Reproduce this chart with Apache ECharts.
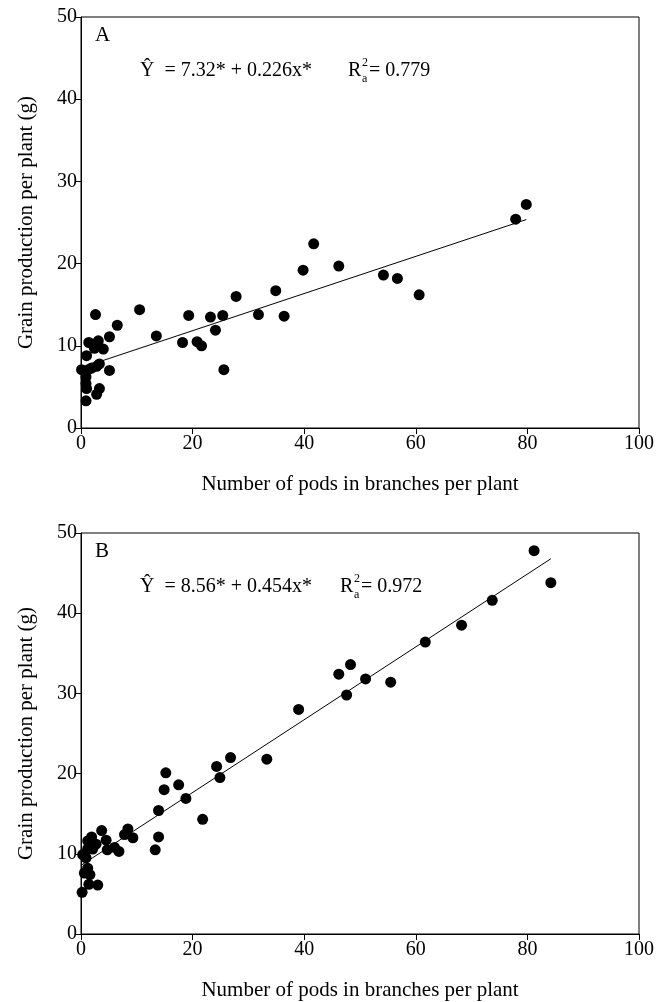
<!DOCTYPE html>
<html><head><meta charset="utf-8">
<script src="https://cdn.jsdelivr.net/npm/echarts@6/dist/echarts.min.js"></script>
<style>html,body{margin:0;padding:0;background:#fff}#c{width:667px;height:1002px}</style>
</head><body><div id="c"></div>
<script>
// Panel A: number of pods in branches vs grain production
const podsA = [0.1,1.0,1.3,0.9,0.9,1.0,0.9,1.9,2.8,3.3,1.4,2.4,3.1,4.0,2.6,5.1,6.5,5.1,3.3,2.8,10.5,13.5,18.2,19.3,20.8,21.6,23.2,24.1,25.4,25.6,27.8,31.8,34.9,36.4,39.8,41.7,46.2,54.2,56.7,60.6,77.9,79.8];
const grainA = [7.1,8.8,7.1,6.2,5.4,4.8,3.3,7.3,7.5,7.8,10.4,9.7,10.6,9.6,13.8,11.1,12.5,7.0,4.8,4.1,14.4,11.2,10.4,13.7,10.5,10.0,13.5,11.9,13.7,7.1,16.0,13.8,16.7,13.6,19.2,22.4,19.7,18.6,18.2,16.2,25.4,27.2];
// Panel B
const podsB = [0.2,0.3,0.6,1.2,1.6,1.4,3.0,0.9,1.2,1.2,1.9,2.1,2.7,3.7,4.5,4.7,6.0,6.8,7.8,8.4,9.3,13.3,13.9,13.9,14.9,17.5,18.8,21.8,15.2,24.9,24.3,26.8,33.3,39.0,47.6,46.2,48.3,51.0,55.5,61.7,68.2,73.7,81.2,84.2];
const grainB = [5.2,9.9,7.6,8.2,7.4,6.2,6.1,9.5,10.6,11.6,12.1,10.6,11.2,12.9,11.7,10.5,10.8,10.3,12.4,13.1,12.0,10.5,12.1,15.4,18.0,18.6,16.9,14.3,20.1,19.5,20.9,22.0,21.8,28.0,29.8,32.4,33.6,31.8,31.4,36.4,38.5,41.6,47.8,43.8];
// Fitted regressions (intercept, slope) and fitted x ranges
const fitA = {a:7.32, b:0.226, x0:0, x1:79.8};
const fitB = {a:8.56, b:0.454, x0:0, x1:84.2};
const xTicks = [0,20,40,60,80,100];
const yTicks = [0,10,20,30,40,50];
const xName = 'Number of pods in branches per plant';
const yName = 'Grain production per plant (g)';
const eqA = ['Ŷ  = 7.32* + 0.226x*', '= 0.779', 'A'];
const eqB = ['Ŷ  = 8.56* + 0.454x*', '= 0.972', 'B'];

const FONT = 'Liberation Serif';
const chart = echarts.init(document.getElementById('c'), null, {renderer:'canvas'});
function zip(xs, ys){ return xs.map((x,i)=>[x, ys[i]]); }
function fitLine(f){ return [[f.x0, f.a + f.b*f.x0],[f.x1, f.a + f.b*f.x1]]; }

const grids = [
  {left:81, top:17, width:558, height:411},
  {left:81, top:533, width:558, height:403}
];
function xAx(i){ return {type:'value', gridIndex:i, min:xTicks[0], max:xTicks[xTicks.length-1], interval:xTicks[1]-xTicks[0],
  axisLine:{show:true, onZero:false, lineStyle:{color:'#000', width:1}},
  axisTick:{show:true, inside:false, length:6, lineStyle:{color:'#000'}},
  axisLabel:{color:'#000', fontFamily:FONT, fontSize:20, margin:6},
  splitLine:{show:false},
  name:xName, nameLocation:'middle', nameGap:46,
  nameTextStyle:{color:'#000', fontFamily:FONT, fontSize:21}}; }
function yAx(i){ return {type:'value', gridIndex:i, min:yTicks[0], max:yTicks[yTicks.length-1], interval:yTicks[1]-yTicks[0],
  axisLine:{show:true, onZero:false, lineStyle:{color:'#000', width:1}},
  axisTick:{show:true, inside:false, length:6, lineStyle:{color:'#000'}},
  axisLabel:{color:'#000', fontFamily:FONT, fontSize:20, margin:4},
  splitLine:{show:false},
  name:yName, nameLocation:'middle', nameGap:44,
  nameTextStyle:{color:'#000', fontFamily:FONT, fontSize:21}}; }

function texts(eq, top, rx){
  const base = {fontFamily:FONT, fill:'#000'};
  return [
    {type:'text', left:95, top:top+8, style:Object.assign({text:eq[2], fontSize:21}, base)},
    {type:'text', left:140, top:top+44, style:Object.assign({text:eq[0], fontSize:20}, base)},
    {type:'text', left:rx, top:top+44, style:Object.assign({text:'R', fontSize:20}, base)},
    {type:'text', left:rx+14, top:top+40, style:Object.assign({text:'2', fontSize:12}, base)},
    {type:'text', left:rx+14, top:top+56, style:Object.assign({text:'a', fontSize:12}, base)},
    {type:'text', left:rx+21, top:top+44, style:Object.assign({text:eq[1], fontSize:20}, base)}
  ];
}

chart.setOption({
  animation:false,
  backgroundColor:'#fff',
  grid: grids.map(g=>Object.assign({show:true, borderColor:'#000', borderWidth:1, backgroundColor:'transparent'}, g)),
  xAxis:[xAx(0), xAx(1)],
  yAxis:[yAx(0), yAx(1)],
  series:[
    {type:'line', xAxisIndex:0, yAxisIndex:0, data:fitLine(fitA), symbol:'none', lineStyle:{color:'#000', width:1}, z:1},
    {type:'scatter', xAxisIndex:0, yAxisIndex:0, data:zip(podsA, grainA), symbol:'circle', symbolSize:11, itemStyle:{color:'#000', opacity:1}, z:2},
    {type:'line', xAxisIndex:1, yAxisIndex:1, data:fitLine(fitB), symbol:'none', lineStyle:{color:'#000', width:1}, z:1},
    {type:'scatter', xAxisIndex:1, yAxisIndex:1, data:zip(podsB, grainB), symbol:'circle', symbolSize:11, itemStyle:{color:'#000', opacity:1}, z:2}
  ],
  graphic: texts(eqA, 17, 348).concat(texts(eqB, 533, 340))
});
</script></body></html>
